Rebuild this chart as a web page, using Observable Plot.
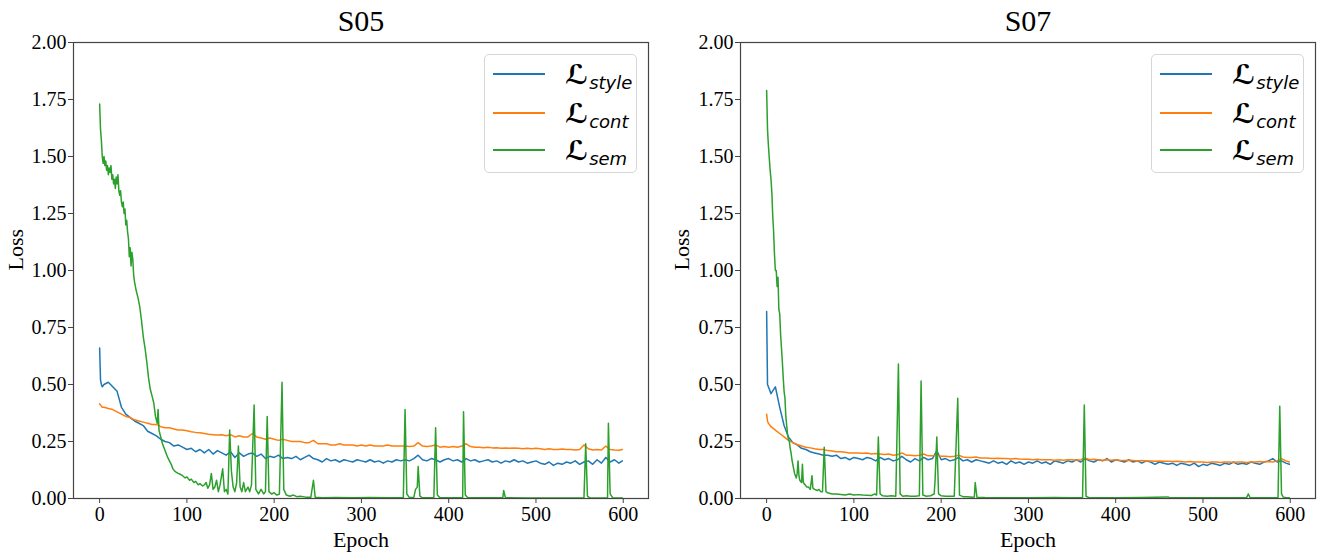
<!DOCTYPE html>
<html>
<head>
<meta charset="utf-8">
<script src="https://cdn.jsdelivr.net/npm/d3@7"></script>
<script src="https://cdn.jsdelivr.net/npm/@observablehq/plot@0.6"></script>
<style>
  html, body { margin: 0; padding: 0; background: white; }
  #wrap { display: flex; width: 1325px; height: 555px; }
  .panel { position: relative; }
  .panel svg text { font-family: 'Liberation Serif', 'Times New Roman', serif; }
  .legend { position: absolute; width: 153px; height: 119px; box-sizing: border-box;
            border: 1px solid #d6d6d6; border-radius: 5px; background: rgba(255,255,255,0.85); }
  .row { position: absolute; left: 0; height: 0; width: 100%; }
  .swatch { position: absolute; left: 8px; width: 52px; top: -1px; height: 2px; }
  .lbl { position: absolute; left: 80px; top: -13px; white-space: nowrap;
         font-family: "DejaVu Sans", sans-serif; font-size: 27px; line-height: 1; color: #000; }
  .lbl .L { font-weight: bold; }
  .lbl .sub { font-style: italic; font-size: 18px; position: relative; top: 5px; margin-left: 1px; font-weight: normal; }
</style>
</head>
<body>
<div id="wrap"></div>
<script>
// ---------- tick labels ----------
const xTicks = [0, 100, 200, 300, 400, 500, 600];
const yTicks = [0, 0.25, 0.5, 0.75, 1.0, 1.25, 1.5, 1.75, 2.0];

// ---------- series names / colours ----------
const seriesNames = ["style", "cont", "sem"];
const seriesColors = ["#1f77b4", "#ff7f0e", "#2ca02c"];
const panelTitles = ["S05", "S07"];

// ---------- epoch grid for L_style / L_cont ----------
const epochs = [
  0, 1, 2, 3,
  5, 10, 15, 20, 25, 30, 35, 40, 45, 50,
  55, 60, 65, 70, 75, 80, 85, 90, 95, 100,
  105, 110, 115, 120, 125, 130, 135, 140, 145, 150,
  155, 160, 165, 170, 175, 180, 185, 190, 195, 200,
  205, 210, 215, 220, 225, 230, 235, 240, 245, 250,
  255, 260, 265, 270, 275, 280, 285, 290, 295, 300,
  305, 310, 315, 320, 325, 330, 335, 340, 345, 350,
  355, 360, 365, 370, 375, 380, 385, 390, 395, 400,
  405, 410, 415, 420, 425, 430, 435, 440, 445, 450,
  455, 460, 465, 470, 475, 480, 485, 490, 495, 500,
  505, 510, 515, 520, 525, 530, 535, 540, 545, 550,
  555, 560, 565, 570, 575, 580, 585, 590, 595, 599
];

// ---------- S05 ----------
const styleS05 = [
  0.66, 0.52, 0.50, 0.49,
  0.50, 0.51, 0.49, 0.47, 0.40, 0.37, 0.355, 0.34, 0.33, 0.32,
  0.295, 0.285, 0.275, 0.26, 0.25, 0.245, 0.23, 0.235, 0.225, 0.215,
  0.22, 0.205, 0.215, 0.20, 0.215, 0.195, 0.21, 0.20, 0.19, 0.205,
  0.18, 0.20, 0.185, 0.195, 0.20, 0.185, 0.195, 0.175, 0.185, 0.18,
  0.19, 0.175, 0.18, 0.175, 0.185, 0.17, 0.18, 0.19, 0.175, 0.17,
  0.16, 0.175, 0.165, 0.17, 0.16, 0.17, 0.165, 0.16, 0.17, 0.165,
  0.16, 0.17, 0.16, 0.165, 0.155, 0.165, 0.16, 0.17, 0.165, 0.17,
  0.165, 0.175, 0.19, 0.17, 0.165, 0.175, 0.17, 0.16, 0.17, 0.175,
  0.165, 0.17, 0.16, 0.175, 0.165, 0.17, 0.16, 0.165, 0.17, 0.16,
  0.165, 0.155, 0.165, 0.16, 0.17, 0.16, 0.165, 0.155, 0.16, 0.165,
  0.155, 0.15, 0.16, 0.145, 0.155, 0.15, 0.16, 0.155, 0.165, 0.15,
  0.16, 0.165, 0.15, 0.17, 0.155, 0.18, 0.16, 0.17, 0.155, 0.165
];
const contS05 = [
  0.415, 0.41, 0.405, 0.40,
  0.40, 0.395, 0.39, 0.38, 0.37, 0.36, 0.355, 0.345, 0.34, 0.335,
  0.33, 0.325, 0.325, 0.315, 0.31, 0.31, 0.305, 0.30, 0.30, 0.297,
  0.293, 0.29, 0.288, 0.285, 0.282, 0.28, 0.278, 0.28, 0.275, 0.28,
  0.27, 0.275, 0.27, 0.27, 0.285, 0.27, 0.265, 0.26, 0.265, 0.26,
  0.255, 0.26, 0.255, 0.25, 0.25, 0.25, 0.245, 0.245, 0.255, 0.24,
  0.24, 0.24, 0.235, 0.235, 0.24, 0.235, 0.235, 0.235, 0.23, 0.235,
  0.23, 0.235, 0.23, 0.23, 0.23, 0.235, 0.23, 0.23, 0.23, 0.23,
  0.228, 0.23, 0.245, 0.23, 0.228, 0.23, 0.235, 0.225, 0.228, 0.225,
  0.228, 0.225, 0.23, 0.24, 0.228, 0.225, 0.225, 0.223, 0.225, 0.222,
  0.223, 0.22, 0.222, 0.22, 0.222, 0.22, 0.218, 0.22, 0.218, 0.22,
  0.218, 0.215, 0.218, 0.215, 0.215, 0.217, 0.215, 0.215, 0.213, 0.215,
  0.235, 0.218, 0.213, 0.215, 0.213, 0.23, 0.215, 0.213, 0.212, 0.215
];
const semS05 = [
  [0, 1.73], [1, 1.62], [2, 1.57], [3, 1.50], [4, 1.47], [5, 1.50], [6, 1.46], [7, 1.48],
  [8, 1.44], [9, 1.46], [10, 1.42], [11, 1.45], [12, 1.43], [13, 1.46], [14, 1.40], [15, 1.42],
  [16, 1.38], [17, 1.40], [18, 1.36], [19, 1.41], [20, 1.38], [21, 1.42], [22, 1.35], [23, 1.33],
  [24, 1.35], [25, 1.30], [26, 1.28], [27, 1.30], [28, 1.25], [29, 1.27], [30, 1.20], [31, 1.22],
  [32, 1.17], [33, 1.14], [34, 1.06], [35, 1.10], [36, 1.02], [37, 1.08], [38, 1.05], [39, 0.98],
  [40, 0.95], [42, 0.91], [44, 0.88], [46, 0.84], [48, 0.78], [50, 0.71], [52, 0.66], [54, 0.60],
  [56, 0.53], [58, 0.48], [60, 0.45], [62, 0.42], [64, 0.36], [66, 0.33], [67, 0.39], [68, 0.30],
  [70, 0.27], [72, 0.24], [74, 0.22], [76, 0.20], [78, 0.18], [80, 0.165], [82, 0.15], [84, 0.13],
  [86, 0.12], [88, 0.115], [90, 0.11], [93, 0.105], [95, 0.10], [98, 0.09], [100, 0.095], [103, 0.08],
  [105, 0.085], [108, 0.07], [110, 0.075], [113, 0.06], [115, 0.065], [118, 0.055], [120, 0.06],
  [122, 0.07], [124, 0.045], [126, 0.06], [128, 0.11], [130, 0.04], [132, 0.05], [134, 0.08],
  [136, 0.03], [138, 0.06], [141, 0.13], [143, 0.03], [145, 0.04], [147, 0.02], [149, 0.30],
  [151, 0.12], [153, 0.05], [155, 0.03], [157, 0.07], [159, 0.23], [161, 0.05], [163, 0.03],
  [165, 0.07], [167, 0.03], [170, 0.05], [172, 0.03], [174, 0.06], [177, 0.41], [179, 0.04],
  [182, 0.02], [185, 0.04], [188, 0.02], [190, 0.03], [192, 0.36], [194, 0.03], [197, 0.02],
  [200, 0.025], [203, 0.015], [206, 0.02], [209, 0.51], [211, 0.04], [214, 0.015], [218, 0.01],
  [222, 0.015], [226, 0.008], [230, 0.01], [236, 0.006], [242, 0.005], [245, 0.08], [247, 0.006],
  [255, 0.003], [270, 0.004], [290, 0.003], [310, 0.004], [330, 0.003], [348, 0.004], [350, 0.39],
  [352, 0.02], [355, 0.004], [360, 0.005], [362, 0.04], [364, 0.05], [365, 0.14], [367, 0.01],
  [370, 0.003], [383, 0.004], [385, 0.31], [387, 0.015], [390, 0.003], [405, 0.003], [416, 0.004],
  [417, 0.38], [419, 0.015], [422, 0.003], [440, 0.003], [462, 0.003], [463, 0.035], [465, 0.003],
  [490, 0.002], [520, 0.002], [540, 0.002], [555, 0.003], [557, 0.24], [559, 0.01], [562, 0.002],
  [575, 0.002], [582, 0.003], [583, 0.33], [585, 0.02], [588, 0.003], [599, 0.002]
];

// ---------- S07 ----------
const styleS07 = [
  0.82, 0.50, 0.49, 0.48,
  0.46, 0.49, 0.40, 0.32, 0.27, 0.245, 0.235, 0.22, 0.215, 0.205,
  0.20, 0.195, 0.19, 0.19, 0.185, 0.19, 0.175, 0.18, 0.17, 0.18,
  0.175, 0.17, 0.18, 0.175, 0.165, 0.18, 0.17, 0.175, 0.165, 0.17,
  0.185, 0.17, 0.16, 0.175, 0.165, 0.18, 0.17, 0.175, 0.21, 0.17,
  0.175, 0.165, 0.17, 0.18, 0.165, 0.17, 0.16, 0.17, 0.165, 0.16,
  0.155, 0.165, 0.155, 0.16, 0.15, 0.165, 0.155, 0.16, 0.15, 0.16,
  0.155, 0.165, 0.155, 0.16, 0.15, 0.165, 0.16, 0.155, 0.165, 0.16,
  0.17, 0.16, 0.175, 0.165, 0.16, 0.17, 0.165, 0.175, 0.16, 0.17,
  0.165, 0.16, 0.17, 0.16, 0.165, 0.155, 0.165, 0.16, 0.15, 0.16,
  0.155, 0.15, 0.155, 0.145, 0.155, 0.15, 0.145, 0.155, 0.14, 0.15,
  0.145, 0.155, 0.15, 0.145, 0.155, 0.15, 0.16, 0.15, 0.155, 0.15,
  0.16, 0.155, 0.15, 0.16, 0.165, 0.175, 0.16, 0.165, 0.155, 0.15
];
const contS07 = [
  0.37, 0.34, 0.33, 0.325,
  0.315, 0.30, 0.285, 0.27, 0.255, 0.245, 0.237, 0.23, 0.225, 0.222,
  0.218, 0.215, 0.215, 0.21, 0.208, 0.205, 0.205, 0.203, 0.20, 0.20,
  0.20, 0.198, 0.20, 0.195, 0.197, 0.195, 0.193, 0.195, 0.19, 0.192,
  0.20, 0.19, 0.19, 0.188, 0.19, 0.195, 0.187, 0.188, 0.19, 0.185,
  0.185, 0.183, 0.185, 0.19, 0.182, 0.18, 0.18, 0.182, 0.178, 0.178,
  0.177, 0.175, 0.177, 0.175, 0.175, 0.173, 0.175, 0.173, 0.172, 0.172,
  0.17, 0.172, 0.17, 0.17, 0.17, 0.168, 0.17, 0.168, 0.17, 0.17,
  0.168, 0.17, 0.178, 0.17, 0.172, 0.17, 0.168, 0.17, 0.168, 0.17,
  0.168, 0.167, 0.168, 0.167, 0.165, 0.167, 0.165, 0.165, 0.163, 0.165,
  0.163, 0.163, 0.162, 0.163, 0.162, 0.16, 0.162, 0.16, 0.16, 0.16,
  0.158, 0.16, 0.16, 0.158, 0.16, 0.16, 0.158, 0.16, 0.16, 0.158,
  0.16, 0.16, 0.162, 0.16, 0.162, 0.16, 0.165, 0.175, 0.165, 0.16
];
const semS07 = [
  [0, 1.79], [1, 1.62], [2, 1.55], [4, 1.44], [5, 1.40], [6, 1.34], [7, 1.24], [8, 1.17],
  [9, 1.07], [10, 1.00], [11, 1.00], [12, 0.93], [13, 0.97], [14, 0.83], [15, 0.81], [16, 0.72],
  [17, 0.66], [18, 0.60], [19, 0.53], [20, 0.47], [21, 0.44], [22, 0.36], [23, 0.32], [24, 0.28],
  [25, 0.26], [26, 0.25], [27, 0.22], [28, 0.20], [29, 0.17], [30, 0.15], [31, 0.13], [32, 0.11],
  [34, 0.09], [35, 0.11], [36, 0.165], [37, 0.10], [38, 0.08], [40, 0.07], [41, 0.15], [42, 0.07],
  [44, 0.06], [46, 0.05], [48, 0.05], [50, 0.04], [52, 0.10], [53, 0.045], [55, 0.04], [58, 0.035],
  [60, 0.04], [62, 0.03], [64, 0.03], [66, 0.225], [68, 0.03], [70, 0.025], [75, 0.02], [80, 0.02],
  [85, 0.018], [90, 0.015], [95, 0.02], [100, 0.015], [105, 0.017], [110, 0.015], [115, 0.014],
  [120, 0.013], [124, 0.02], [126, 0.015], [128, 0.27], [130, 0.02], [133, 0.012], [138, 0.01],
  [143, 0.012], [148, 0.01], [151, 0.59], [153, 0.02], [156, 0.01], [160, 0.012], [165, 0.01],
  [170, 0.01], [175, 0.012], [177, 0.515], [179, 0.015], [183, 0.01], [188, 0.012], [192, 0.02],
  [193, 0.08], [195, 0.27], [197, 0.02], [200, 0.012], [205, 0.01], [210, 0.01], [215, 0.01],
  [219, 0.44], [221, 0.015], [225, 0.008], [230, 0.008], [236, 0.006], [238, 0.007], [239, 0.07],
  [241, 0.006], [250, 0.004], [270, 0.003], [300, 0.003], [330, 0.004], [350, 0.003], [362, 0.004],
  [364, 0.41], [366, 0.01], [370, 0.003], [400, 0.003], [430, 0.004], [460, 0.007], [462, 0.003],
  [490, 0.003], [520, 0.003], [550, 0.004], [552, 0.02], [554, 0.003], [575, 0.003], [586, 0.004],
  [588, 0.405], [590, 0.02], [592, 0.006], [595, 0.004], [599, 0.003]
];

// ---------- drawing ----------
const FONT = "'Liberation Serif', 'Times New Roman', serif";

function makePanel(title, styleVals, contVals, semPairs, layout) {
  const styleRows = epochs.map((e, i) => ({epoch: e, loss: styleVals[i]}));
  const contRows = epochs.map((e, i) => ({epoch: e, loss: contVals[i]}));
  const semRows = semPairs.map(([e, v]) => ({epoch: e, loss: v}));
  const rows = [styleRows, contRows, semRows];

  return Plot.plot({
    width: layout.width,
    height: 555,
    marginLeft: layout.marginLeft,
    marginRight: layout.marginRight,
    marginTop: 42,
    marginBottom: 57,
    style: {fontFamily: FONT, fontSize: "20px", background: "white", color: "#000", overflow: "visible"},
    x: {domain: [-29.95, 628.95]},
    y: {domain: [0, 2]},
    marks: [
      Plot.axisX({ticks: xTicks, tickSize: 5, tickPadding: 3, label: null, stroke: "#444",
                  fontSize: 20, fontFamily: FONT, fontVariant: "normal", fill: "#000"}),
      Plot.axisY({ticks: yTicks, tickFormat: d3.format(".2f"), tickSize: 5, tickPadding: 2, label: null,
                  stroke: "#444", fontSize: 20, fontFamily: FONT, fontVariant: "normal", fill: "#000"}),
      ...rows.map((r, k) => Plot.line(r, {x: "epoch", y: "loss", stroke: seriesColors[k], strokeWidth: 1.5})),
      Plot.frame({stroke: "#444", strokeWidth: 1.2}),
      Plot.text([title], {text: d => d, frameAnchor: "top", lineAnchor: "middle", dy: -21,
                          fontSize: 30, fontFamily: FONT, fill: "#000"}),
      Plot.text(["Epoch"], {text: d => d, frameAnchor: "bottom", lineAnchor: "middle", dy: 41,
                            fontSize: 22, fontFamily: FONT, fill: "#000"}),
      Plot.text(["Loss"], {text: d => d, frameAnchor: "left", lineAnchor: "middle", dx: layout.labelDx, rotate: -90,
                           fontSize: 22, fontFamily: FONT, fill: "#000"})
    ]
  });
}

function makeLegend(left, top) {
  const lg = document.createElement("div");
  lg.className = "legend";
  lg.style.left = left + "px";
  lg.style.top = top + "px";
  const rowY = [19, 58, 95];
  seriesNames.forEach((name, k) => {
    const row = document.createElement("div");
    row.className = "row";
    row.style.top = rowY[k] + "px";
    const sw = document.createElement("span");
    sw.className = "swatch";
    sw.style.background = seriesColors[k];
    const lbl = document.createElement("span");
    lbl.className = "lbl";
    const L = document.createElement("span");
    L.className = "L";
    L.textContent = "\u2112";
    const sub = document.createElement("span");
    sub.className = "sub";
    sub.textContent = name;
    lbl.appendChild(L);
    lbl.appendChild(sub);
    row.appendChild(sw);
    row.appendChild(lbl);
    lg.appendChild(row);
  });
  return lg;
}

const layouts = [
  {width: 660, marginLeft: 73, marginRight: 12, labelDx: -58},
  {width: 665, marginLeft: 80, marginRight: 10, labelDx: -59}
];
const data = [
  [styleS05, contS05, semS05],
  [styleS07, contS07, semS07]
];

const wrap = document.getElementById("wrap");
panelTitles.forEach((t, p) => {
  const lay = layouts[p];
  const div = document.createElement("div");
  div.className = "panel";
  div.style.width = lay.width + "px";
  div.style.height = "555px";
  div.appendChild(makePanel(t, data[p][0], data[p][1], data[p][2], lay));
  const frameRight = lay.width - lay.marginRight;
  div.appendChild(makeLegend(frameRight - 11 - 153, 54));
  wrap.appendChild(div);
});
</script>
</body>
</html>
